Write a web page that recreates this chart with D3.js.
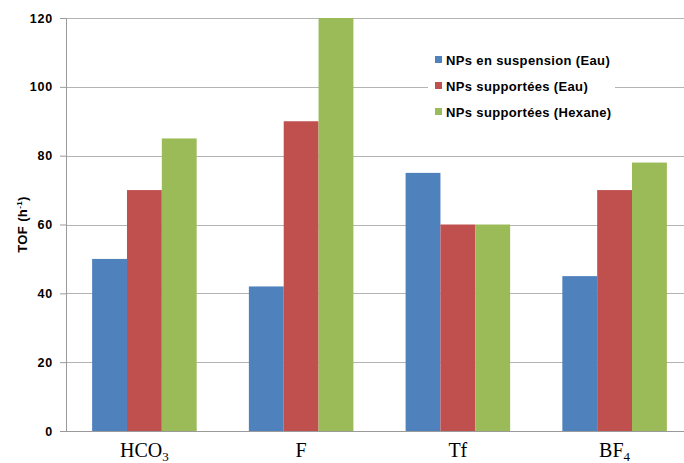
<!DOCTYPE html>
<html>
<head>
<meta charset="utf-8">
<script src="https://cdn.jsdelivr.net/npm/d3@7"></script>
<style>
  body { margin: 0; background: #fff; }
  svg { display: block; }
</style>
</head>
<body>
<div id="chart"></div>
<script>
// anions (label base + subscript)
const categories = ["HCO3", "F", "Tf", "BF4"];
const catLabels = [["HCO", "3"], ["F", ""], ["Tf", ""], ["BF", "4"]];

const seriesNames = ["NPs en suspension (Eau)", "NPs supportées (Eau)", "NPs supportées (Hexane)"];
const suspensionEau = [50, 42, 75, 45];
const supporteesEau = [70, 90, 60, 70];
const supporteesHexane = [85, 120, 60, 78];
const colors = ["#4F81BD", "#C0504D", "#9BBB59"];
const yTicks = [0, 20, 40, 60, 80, 100, 120];

const width = 684, height = 463;
const margin = {top: 18, bottom: 32, left: 66};
// plot area runs past the right edge of the picture (cropped like the original)
const innerW = 627;
const innerH = height - margin.top - margin.bottom;

const svg = d3.select("#chart").append("svg")
    .attr("width", width)
    .attr("height", height);

const g = svg.append("g")
    .attr("transform", `translate(${margin.left},${margin.top})`);

const x0 = d3.scaleBand()
    .domain(categories)
    .range([0, innerW])
    .paddingInner(0.333)
    .paddingOuter(0.1667);

const x1 = d3.scaleBand()
    .domain(d3.range(seriesNames.length))
    .range([0, x0.bandwidth()]);

const y = d3.scaleLinear()
    .domain([0, 120])
    .range([innerH, 0]);

// gridlines
g.append("g")
    .selectAll("line")
    .data(yTicks.filter(d => d > 0))
    .join("line")
    .attr("x1", 0)
    .attr("x2", innerW)
    .attr("y1", d => Math.round(y(d)) + 0.5)
    .attr("y2", d => Math.round(y(d)) + 0.5)
    .attr("stroke", "#b3b3b3")
    .attr("stroke-width", 1);

// y axis
const yAxis = g.append("g")
    .call(d3.axisLeft(y).tickValues(yTicks).tickSize(6).tickSizeOuter(0).tickPadding(7));
yAxis.select(".domain").attr("stroke", "#9a9a9a");
yAxis.selectAll(".tick line").attr("stroke", "#9a9a9a");
yAxis.selectAll(".tick text")
    .attr("font-family", "Liberation Sans, Arial, sans-serif")
    .attr("font-size", 12.5)
    .attr("font-weight", "bold")
    .attr("letter-spacing", 0.8)
    .attr("fill", "#000");

// bars
const data = categories.map((c, i) => ({
    cat: c,
    values: [suspensionEau[i], supporteesEau[i], supporteesHexane[i]]
}));

g.append("g")
    .selectAll("g")
    .data(data)
    .join("g")
    .attr("transform", d => `translate(${x0(d.cat)},0)`)
    .selectAll("rect")
    .data(d => d.values.map((v, k) => ({k, v})))
    .join("rect")
    .attr("x", d => x1(d.k))
    .attr("width", x1.bandwidth())
    .attr("y", d => y(d.v))
    .attr("height", d => innerH - y(d.v))
    .attr("fill", d => colors[d.k]);

// bottom axis line
g.append("line")
    .attr("x1", -6)
    .attr("x2", innerW)
    .attr("y1", innerH + 0.5)
    .attr("y2", innerH + 0.5)
    .attr("stroke", "#9a9a9a");

// x labels with subscripts
const xl = g.append("g")
    .selectAll("text")
    .data(categories)
    .join("text")
    .attr("x", d => x0(d) + x0.bandwidth() / 2)
    .attr("y", innerH + 26)
    .attr("text-anchor", "middle")
    .attr("font-family", "Liberation Serif, Times New Roman, serif")
    .attr("font-size", 20)
    .attr("fill", "#000");
xl.append("tspan").text((d, i) => catLabels[i][0]);
xl.append("tspan")
    .attr("font-size", 13)
    .attr("dy", 4)
    .text((d, i) => catLabels[i][1]);

// y title
const yt = svg.append("text")
    .attr("transform", `translate(27,${margin.top + innerH / 2}) rotate(-90)`)
    .attr("text-anchor", "middle")
    .attr("font-family", "Liberation Sans, Arial, sans-serif")
    .attr("font-size", 13)
    .attr("font-weight", "bold")
    .attr("letter-spacing", 0.4)
    .attr("fill", "#000");
yt.append("tspan").text("TOF (h");
yt.append("tspan").attr("font-size", 8).attr("dy", -5).text("-1");
yt.append("tspan").attr("dy", 5).text(")");

// legend
const legend = svg.append("g").attr("transform", "translate(428,46)");
legend.append("rect")
    .attr("width", 187)
    .attr("height", 80)
    .attr("fill", "#fff");
const li = legend.selectAll("g.item")
    .data(seriesNames)
    .join("g")
    .attr("class", "item")
    .attr("transform", (d, i) => `translate(7,${14 + i * 26})`);
li.append("rect")
    .attr("x", 0)
    .attr("y", -4)
    .attr("width", 7)
    .attr("height", 7)
    .attr("fill", (d, i) => colors[i]);
li.append("text")
    .attr("x", 11)
    .attr("y", 5)
    .attr("font-family", "Liberation Sans, Arial, sans-serif")
    .attr("font-size", 13)
    .attr("font-weight", "bold")
    .attr("letter-spacing", 0.35)
    .attr("fill", "#000")
    .text(d => d);
</script>
</body>
</html>
